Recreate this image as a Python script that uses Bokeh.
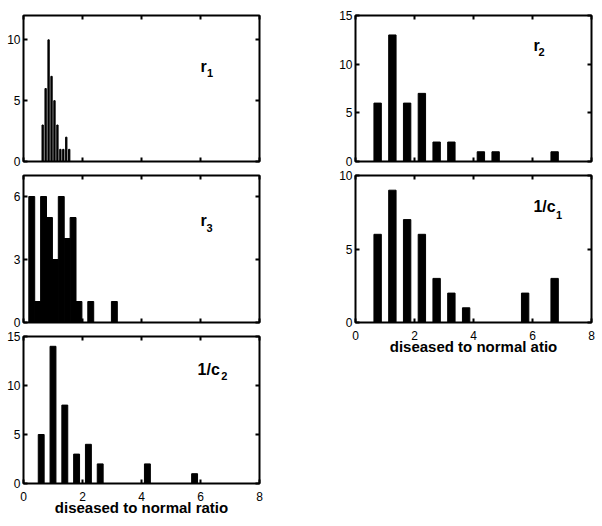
from bokeh.plotting import figure
from bokeh.layouts import column, row
from bokeh.models import Range1d, FixedTicker, LinearAxis, Label, CustomLabelingPolicy
from bokeh.embed import file_html
from bokeh.resources import INLINE

FONT = "Liberation Sans"

# ---- data (bin centres, counts) ----
r1_x = [0.65, 0.75, 0.85, 0.95, 1.05, 1.15, 1.25, 1.35, 1.45, 1.55]
r1_n = [3, 6, 10, 7, 5, 3, 1, 1, 2, 1]

r3_x = [0.28, 0.48, 0.68, 0.88, 1.08, 1.28, 1.48, 1.68, 1.88, 2.28, 3.08]
r3_n = [6, 1, 6, 5, 3, 6, 4, 5, 1, 1, 1]

c2_x = [0.6, 1.0, 1.4, 1.8, 2.2, 2.6, 4.2, 5.8]
c2_n = [5, 14, 8, 3, 4, 2, 2, 1]

r2_x = [0.75, 1.25, 1.75, 2.25, 2.75, 3.25, 4.25, 4.75, 6.75]
r2_n = [6, 13, 6, 7, 2, 2, 1, 1, 1]

c1_x = [0.75, 1.25, 1.75, 2.25, 2.75, 3.25, 3.75, 5.75, 6.75]
c1_n = [6, 9, 7, 6, 3, 2, 1, 2, 3]

x_ticks = [0, 2, 4, 6, 8]
left_title = "diseased to normal ratio"
right_title = "diseased to normal atio"


def style_axis(ax, ticks, labels):
    ax.ticker = FixedTicker(ticks=ticks)
    ax.axis_line_color = None
    ax.major_tick_in = 4
    ax.major_tick_out = 0
    ax.major_tick_line_width = 2
    ax.major_tick_line_color = "black"
    ax.minor_tick_in = 0
    ax.minor_tick_out = 0
    if labels:
        ax.major_label_text_font = FONT
        ax.major_label_text_font_size = "12px"
        ax.major_label_text_color = "black"
    else:
        ax.major_label_policy = CustomLabelingPolicy(code="return []")
        ax.major_label_text_font_size = "1px"
        ax.major_label_text_alpha = 0
        ax.major_label_standoff = 0


def make_fig(w, h, bl, br, bt, bb, ymax, yticks, xlabels, title=None):
    p = figure(width=w, height=h, output_backend="svg", toolbar_location=None,
               x_range=Range1d(0, 8), y_range=Range1d(0, ymax),
               min_border_left=bl, min_border_right=br,
               min_border_top=bt, min_border_bottom=bb)
    p.xgrid.visible = False
    p.ygrid.visible = False
    p.outline_line_color = "black"
    p.outline_line_width = 2
    p.outline_line_alpha = 1
    p.background_fill_color = "white"
    p.border_fill_color = "white"
    style_axis(p.below[0], x_ticks, xlabels)
    if xlabels:
        p.below[0].major_label_standoff = 8
    style_axis(p.left[0], yticks, True)
    p.left[0].major_label_standoff = 3
    top = LinearAxis()
    right = LinearAxis()
    style_axis(top, x_ticks, False)
    style_axis(right, yticks, False)
    p.add_layout(top, "above")
    p.add_layout(right, "right")
    if title:
        ax = p.below[0]
        ax.axis_label = title
        ax.axis_label_text_font = FONT
        ax.axis_label_text_font_size = "15px"
        ax.axis_label_text_font_style = "bold"
        ax.axis_label_text_color = "black"
        ax.axis_label_standoff = -5
    return p


def add_name(p, main, sub, x, y, xs, ys):
    p.add_layout(Label(x=x, y=y, text=main, text_font=FONT, text_font_style="bold",
                       text_font_size="16px", text_baseline="alphabetic", text_align="left",
                       text_color="black"))
    p.add_layout(Label(x=xs, y=ys, text=sub, text_font=FONT, text_font_style="bold",
                       text_font_size="11px", text_baseline="alphabetic", text_align="left",
                       text_color="black"))


# left column
p1 = make_fig(300, 168, 23, 41, 15, 7, 12, [0, 5, 10], False)
p1.vbar(x=r1_x, top=r1_n, width=0.045, bottom=0, color="black")
add_name(p1, "r", "1", 6.0, 7.8, 6.22, 7.3)

p2 = make_fig(300, 161, 23, 41, 7, 7, 7, [0, 3, 6], False)
p2.vbar(x=r3_x, top=r3_n, width=0.2, bottom=0, color="black")
add_name(p2, "r", "3", 6.0, 4.86, 6.2, 4.52)

p3 = make_fig(300, 195, 23, 41, 7, 41, 15, [0, 5, 10, 15], True, left_title)
p3.vbar(x=c2_x, top=c2_n, width=0.2, bottom=0, color="black")
add_name(p3, "1/c", "2", 5.9, 11.65, 6.7, 10.94)

# right column
p4 = make_fig(300, 168, 55, 9, 15, 7, 15, [0, 5, 10, 15], False)
p4.vbar(x=r2_x, top=r2_n, width=0.25, bottom=0, color="black")
add_name(p4, "r", "2", 6.03, 11.9, 6.2, 11.2)

p5 = make_fig(300, 195, 55, 9, 7, 41, 10, [0, 5, 10], True, right_title)
p5.vbar(x=c1_x, top=c1_n, width=0.25, bottom=0, color="black")
add_name(p5, "1/c", "1", 6.03, 7.9, 6.8, 7.28)

layout = row(column(p1, p2, p3), column(p4, p5))

open("out.html", "w").write(file_html(layout, INLINE))
